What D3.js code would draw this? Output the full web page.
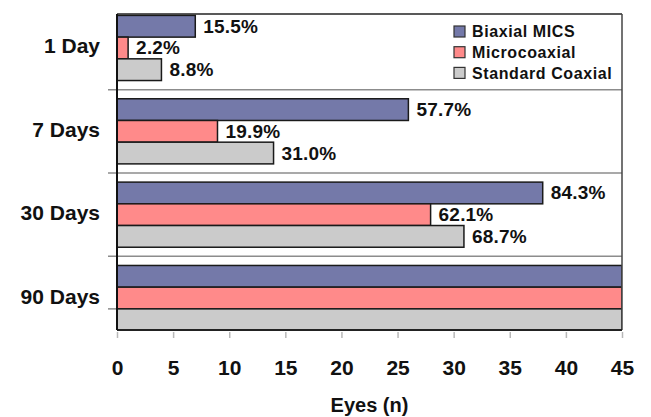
<!DOCTYPE html>
<html>
<head>
<meta charset="utf-8">
<script src="https://cdn.jsdelivr.net/npm/d3@7"></script>
<style>
  body { margin: 0; background: #fff; }
  svg { display: block; }
  text { font-family: "Liberation Sans", Arial, Helvetica, sans-serif; font-weight: bold; fill: #111; }
</style>
</head>
<body>
<svg id="chart" width="651" height="417"></svg>
<script>
// Time points after surgery
const categories = ["1 Day", "7 Days", "30 Days", "90 Days"];
// Incision groups
const seriesNames = ["Biaxial MICS", "Microcoaxial", "Standard Coaxial"];
const seriesColors = ["#7479a9", "#ff8a8a", "#cbcbcb"];
// Share of eyes (%) reaching the endpoint at each time point
const biaxialPct = [15.5, 57.7, 84.3, 100];
const microcoaxialPct = [2.2, 19.9, 62.1, 100];
const standardPct = [8.8, 31.0, 68.7, 100];
// Percent labels are printed for every time point except the last
const showLabel = [true, true, true, false];
const totalEyes = 45;
const xTickValues = [0, 5, 10, 15, 20, 25, 30, 35, 40, 45];

const seriesPct = [biaxialPct, microcoaxialPct, standardPct];
const rows = [];
categories.forEach((c, ci) => {
  seriesNames.forEach((s, si) => {
    const pct = seriesPct[si][ci];
    rows.push({ category: c, series: s, si, pct, eyes: pct / 100 * totalEyes, label: showLabel[ci] });
  });
});

const svg = d3.select("#chart");
const plot = { left: 117, right: 622, top: 14, bottom: 330 };

const x = d3.scaleLinear().domain([0, totalEyes]).range([plot.left, plot.right]);
const y = d3.scaleBand().domain(categories).range([6.3, 339.7]).paddingInner(0).paddingOuter(0);
const ySub = d3.scaleBand().domain(seriesNames).range([0, y.bandwidth()]).paddingInner(0).paddingOuter(0.42);

svg.append("defs").append("clipPath").attr("id", "plotClip")
  .append("rect")
  .attr("x", plot.left).attr("y", plot.top)
  .attr("width", plot.right - plot.left).attr("height", plot.bottom - plot.top);

// Separators between time points, extending out as category ticks
const boundaries = categories.slice(1).map(c => y(c));
svg.append("g").selectAll("line").data(boundaries).join("line")
  .attr("x1", plot.left - 9).attr("x2", plot.right)
  .attr("y1", d => d).attr("y2", d => d)
  .attr("stroke", "#8c8c8c").attr("stroke-width", 1.5);

// Extra category tick inside the last group
const lastCat = categories[categories.length - 1];
svg.append("line")
  .attr("x1", plot.left - 9).attr("x2", plot.left)
  .attr("y1", y(lastCat) + ySub(seriesNames[2])).attr("y2", y(lastCat) + ySub(seriesNames[2]))
  .attr("stroke", "#8c8c8c").attr("stroke-width", 1.5);

// Bars
svg.append("g").attr("clip-path", "url(#plotClip)")
  .selectAll("rect").data(rows).join("rect")
  .attr("x", x(0))
  .attr("y", d => y(d.category) + ySub(d.series))
  .attr("width", d => x(d.eyes) - x(0))
  .attr("height", ySub.bandwidth())
  .attr("fill", d => seriesColors[d.si])
  .attr("stroke", "#1a1a1a").attr("stroke-width", 1.5);

// Percent labels
svg.append("g").selectAll("text").data(rows.filter(d => d.label)).join("text")
  .attr("x", d => x(d.eyes) + 8)
  .attr("y", d => y(d.category) + ySub(d.series) + ySub.bandwidth() / 2 + 6.5)
  .attr("font-size", 19)
  .attr("letter-spacing", 0.2)
  .text(d => d3.format(".1f")(d.pct) + "%");

// Plot frame
svg.append("line").attr("x1", plot.left).attr("x2", plot.right).attr("y1", plot.top).attr("y2", plot.top)
  .attr("stroke", "#222").attr("stroke-width", 1.5);
svg.append("line").attr("x1", plot.right).attr("x2", plot.right).attr("y1", plot.top).attr("y2", plot.bottom)
  .attr("stroke", "#444").attr("stroke-width", 1.5);
svg.append("line").attr("x1", plot.left).attr("x2", plot.right).attr("y1", plot.bottom).attr("y2", plot.bottom)
  .attr("stroke", "#222").attr("stroke-width", 2);
svg.append("line").attr("x1", plot.left).attr("x2", plot.left).attr("y1", plot.top).attr("y2", plot.bottom)
  .attr("stroke", "#111").attr("stroke-width", 2);

// X axis
const xAxis = d3.axisBottom(x).tickValues(xTickValues).tickSize(0).tickPadding(0);
const gx = svg.append("g").attr("transform", `translate(0,${plot.bottom})`).call(xAxis);
gx.select(".domain").remove();
gx.selectAll(".tick line").remove();
gx.selectAll(".tick").append("line")
  .attr("y1", 2).attr("y2", 8)
  .attr("stroke", "#b8b8b8").attr("stroke-width", 1.5);
gx.selectAll(".tick text")
  .attr("y", 45).attr("dy", null)
  .attr("font-size", 21).attr("font-family", null).attr("fill", "#111");

// Y axis category labels
const yAxis = d3.axisLeft(y).tickSize(0).tickPadding(0);
const gy = svg.append("g").attr("transform", `translate(${plot.left - 17},0)`).call(yAxis);
gy.select(".domain").remove();
gy.selectAll(".tick text")
  .attr("dy", null).attr("y", 5.5)
  .attr("font-size", 21).attr("font-family", null).attr("fill", "#111");

// Axis title
svg.append("text")
  .attr("x", (plot.left + plot.right) / 2).attr("y", 411.5)
  .attr("text-anchor", "middle").attr("font-size", 20)
  .text("Eyes (n)");

// Legend
const legend = svg.append("g").selectAll("g").data(seriesNames).join("g")
  .attr("transform", (d, i) => `translate(454,${31.5 + i * 20.7})`);
legend.append("rect")
  .attr("x", 0).attr("y", -5.5).attr("width", 11).attr("height", 11)
  .attr("fill", (d, i) => seriesColors[i])
  .attr("stroke", "#333").attr("stroke-width", 1.2);
legend.append("text")
  .attr("x", 18).attr("y", 5.6)
  .attr("font-size", 16).attr("letter-spacing", 0.6)
  .text(d => d);
</script>
</body>
</html>
